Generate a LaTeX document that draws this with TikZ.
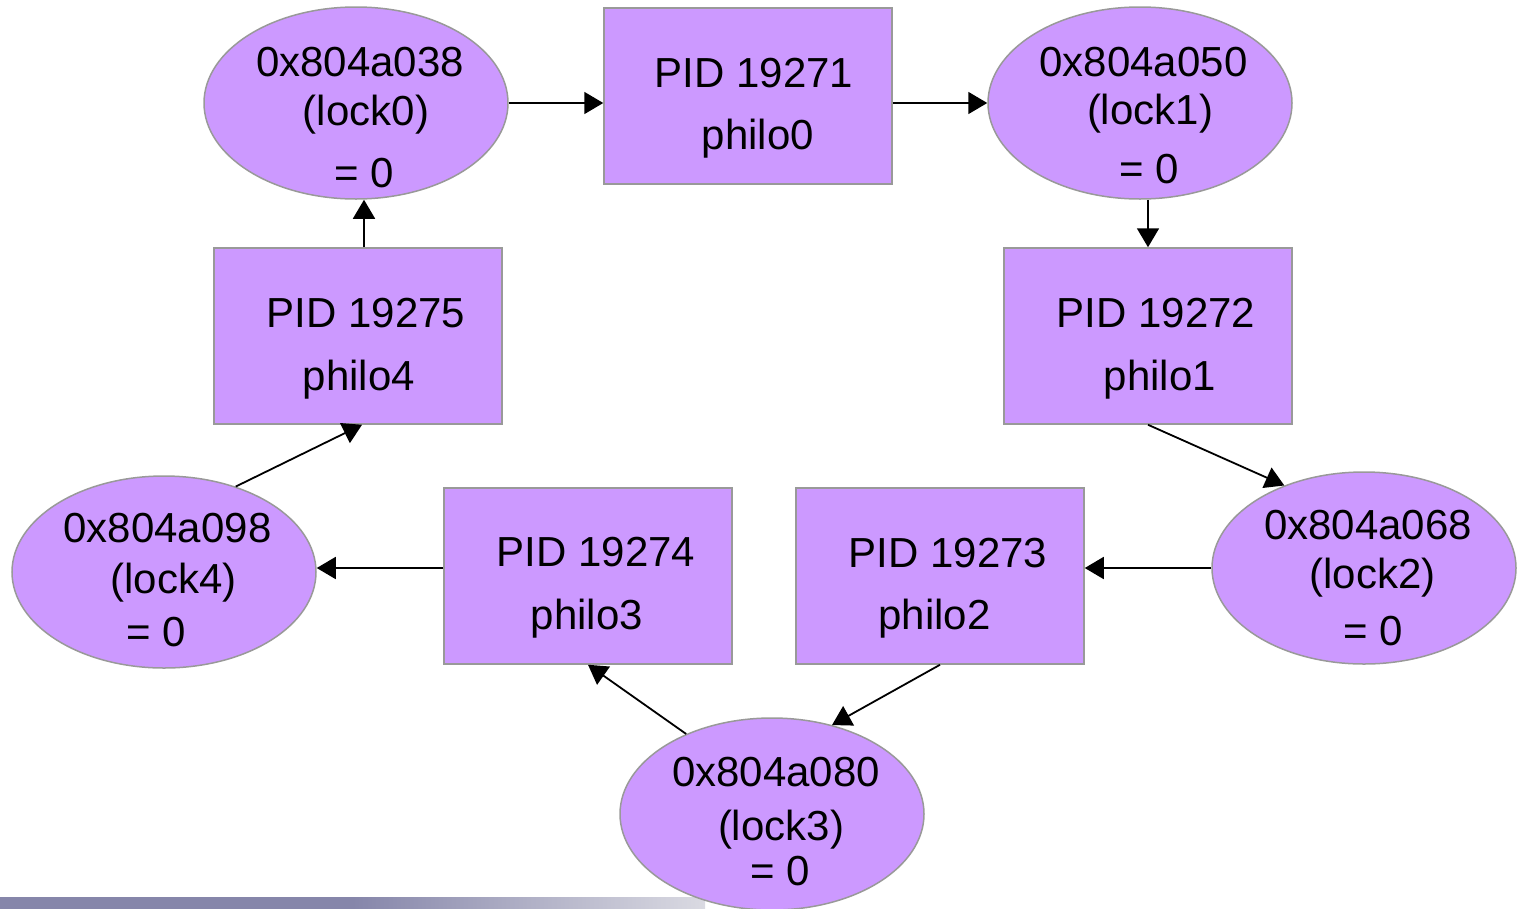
\documentclass[tikz,border=0pt]{standalone}
\usepackage{fontspec}
\setmainfont{Liberation Sans}
\usetikzlibrary{shapes.geometric,arrows.meta}

\definecolor{nodefill}{HTML}{CC99FF}
\definecolor{nodeline}{HTML}{999999}
\definecolor{bardark}{HTML}{8686AA}
\definecolor{barlight}{HTML}{DADAE2}

\tikzset{
  lockbox/.style={ellipse, draw=nodeline, fill=nodefill, line width=1.5pt,
    minimum width=304pt, minimum height=192pt, inner sep=0pt},
  procbox/.style={rectangle, draw=nodeline, fill=nodefill, line width=1.5pt,
    minimum width=288pt, minimum height=176pt, inner sep=0pt},
  txt/.style={anchor=base, inner sep=0pt, font=\fontsize{42}{50}\selectfont},
  link/.style={draw=black, line width=1.8pt,
    -{Triangle[length=19pt,width=22pt]}},
}

\begin{document}
\begin{tikzpicture}[x=1pt,y=-1pt]
\useasboundingbox (0,0) rectangle (1517,908);

% footer bar: solid on the left half, fading out to the right
\shade[left color=bardark, right color=barlight, middle color=bardark]
  (0,897) rectangle (705,908);

% locks
\node[lockbox] (lock0) at (356,103) {};
\node[lockbox] (lock1) at (1140,103) {};
\node[lockbox] (lock2) at (1364,568) {};
\node[lockbox] (lock3) at (772,814) {};
\node[lockbox] (lock4) at (164,572) {};

% philosopher processes
\node[procbox] (philo0) at (748,96) {};
\node[procbox] (philo1) at (1148,336) {};
\node[procbox] (philo2) at (940,576) {};
\node[procbox] (philo3) at (588,576) {};
\node[procbox] (philo4) at (358,336) {};

% lock labels
\node[txt] (l0a) at (360,76) {0x804a038};
\node[txt] (l0b) at (366,125) {(lock0)};
\node[txt] (l0c) at (364,187) {= 0};
\node[txt] (l1a) at (1143.5,76) {0x804a050};
\node[txt] (l1b) at (1150,124) {(lock1)};
\node[txt] (l1c) at (1149,183) {= 0};
\node[txt] (l2a) at (1368,539) {0x804a068};
\node[txt] (l2b) at (1372.5,588) {(lock2)};
\node[txt] (l2c) at (1373,645) {= 0};
\node[txt] (l3a) at (776,786) {0x804a080};
\node[txt] (l3b) at (781,840) {(lock3)};
\node[txt] (l3c) at (780,885) {= 0};
\node[txt] (l4a) at (167.5,542) {0x804a098};
\node[txt] (l4b) at (173.5,593) {(lock4)};
\node[txt] (l4c) at (156.5,646) {= 0};

% process labels
\node[txt] (p0a) at (754,87) {PID 19271};
\node[txt] (p0b) at (758,149) {philo0};
\node[txt] (p1a) at (1156,327) {PID 19272};
\node[txt] (p1b) at (1160,390) {philo1};
\node[txt] (p2a) at (948,567) {PID 19273};
\node[txt] (p2b) at (934.5,629) {philo2};
\node[txt] (p3a) at (596,566) {PID 19274};
\node[txt] (p3b) at (587,629) {philo3};
\node[txt] (p4a) at (366,327) {PID 19275};
\node[txt] (p4b) at (359,390) {philo4};

% wait-for cycle
\draw[link] (lock0.east) -- (lock0.east -| philo0.west);
\draw[link] (philo0.east |- lock1.west) -- (lock1.west);
\draw[link] (lock1.south -| philo1.north) -- (philo1.north);
\draw[link] (philo1.south) -- (lock2.134);
\draw[link] (lock2.west) -- (lock2.west -| philo2.east);
\draw[link] (philo2.south) -- (lock3.56);
\draw[link] (lock3.137) -- (philo3.south);
\draw[link] ([yshift=8pt]philo3.west) -- ([yshift=8pt]philo3.west -| lock4.east);
\draw[link] (lock4.50) -- ([xshift=4pt]philo4.south);
\draw[link] ([xshift=6pt]philo4.north) -- ([xshift=6pt]philo4.north |- lock0.south);
\end{tikzpicture}
\end{document}
